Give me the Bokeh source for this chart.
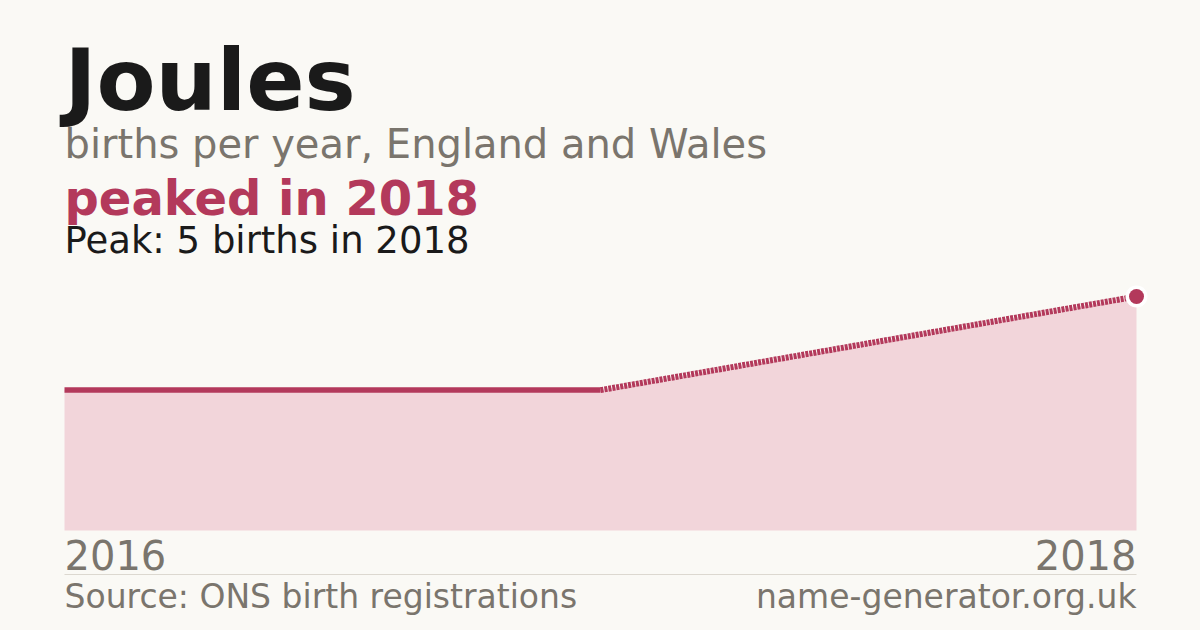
from bokeh.plotting import figure
from bokeh.models import Range1d, Label, BoxAnnotation
from bokeh.embed import file_html
from bokeh.resources import INLINE

# ---- data ----
years = [2016, 2017, 2018]
births = [3, 3, 5]
peak_year = 2018
peak_value = 5
tick_labels = ["2016", "2018"]

title = "Joules"
subtitle = "births per year, England and Wales"
headline = "peaked in 2018"
peak_text = "Peak: 5 births in 2018"
source = "Source: ONS birth registrations"
site = "name-generator.org.uk"

# ---- style ----
BG = "#faf9f5"
ACCENT = "#b3395b"
FILL = "#f2d5da"
DARK = "#1a1a1a"
GREY = "#7a756d"
FONT = "DejaVu Sans"

W, H = 1200, 630
left_px, right_px = 64, 1136          # plot x extent in canvas pixels
base_px, top_px = 100, 334             # y=0 and y=peak (from bottom)

xpp = (right_px - left_px) / (years[-1] - years[0])
ypp = (top_px - base_px) / max(births)

p = figure(width=W, height=H, output_backend="svg", toolbar_location=None,
           min_border=0, min_border_left=0, min_border_right=0,
           min_border_top=0, min_border_bottom=0)
p.x_range = Range1d(years[0] - left_px / xpp, years[-1] + (W - right_px) / xpp)
p.y_range = Range1d(-base_px / ypp, (H - base_px) / ypp)
p.axis.visible = False
p.grid.visible = False
p.outline_line_color = None
p.background_fill_color = BG
p.border_fill_color = BG

# area
p.varea(x=years, y1=[0] * len(years), y2=births, fill_color=FILL)
# solid part
p.line(years[:2], births[:2], line_color=ACCENT, line_width=5.5)
# dashed part
p.line(years[1:], births[1:], line_color=ACCENT, line_width=6, line_dash="3 1")
# peak marker with halo
p.scatter([peak_year], [peak_value], size=22, fill_color="white", line_color=None)
p.scatter([peak_year], [peak_value], size=15, fill_color=ACCENT, line_color=None)

def lab(text, x, y, size, color, bold=False, align="left", x_units="screen"):
    p.add_layout(Label(text=text, x=x, y=y, x_units=x_units, y_units="screen",
                       text_font=FONT, text_font_size=size, text_color=color,
                       text_font_style="bold" if bold else "normal",
                       text_align=align, text_baseline="alphabetic"))

lab(title, left_px, 551, "86px", DARK, bold=True)
lab(subtitle, left_px, 487, "40px", GREY)
lab(headline, left_px, 433, "48px", ACCENT, bold=True)
lab(peak_text, left_px, 390, "37px", DARK)

lab(tick_labels[0], years[0], 76, "40px", GREY, align="left", x_units="data")
lab(tick_labels[1], years[-1], 76, "40px", GREY, align="right", x_units="data")

p.add_layout(BoxAnnotation(left=left_px, right=right_px, bottom=55.5, top=56.5,
                           left_units="screen", right_units="screen",
                           bottom_units="screen", top_units="screen",
                           fill_color="#dcd8d0", fill_alpha=1, line_color=None))

lab(source, left_px, 34, "33px", GREY)
lab(site, right_px, 34, "33px", GREY, align="right")

html = file_html(p, INLINE, title="Joules")
html = html.replace("</head>", "<style>html,body{background:%s;}</style></head>" % BG, 1)
open("out.html", "w").write(html)
